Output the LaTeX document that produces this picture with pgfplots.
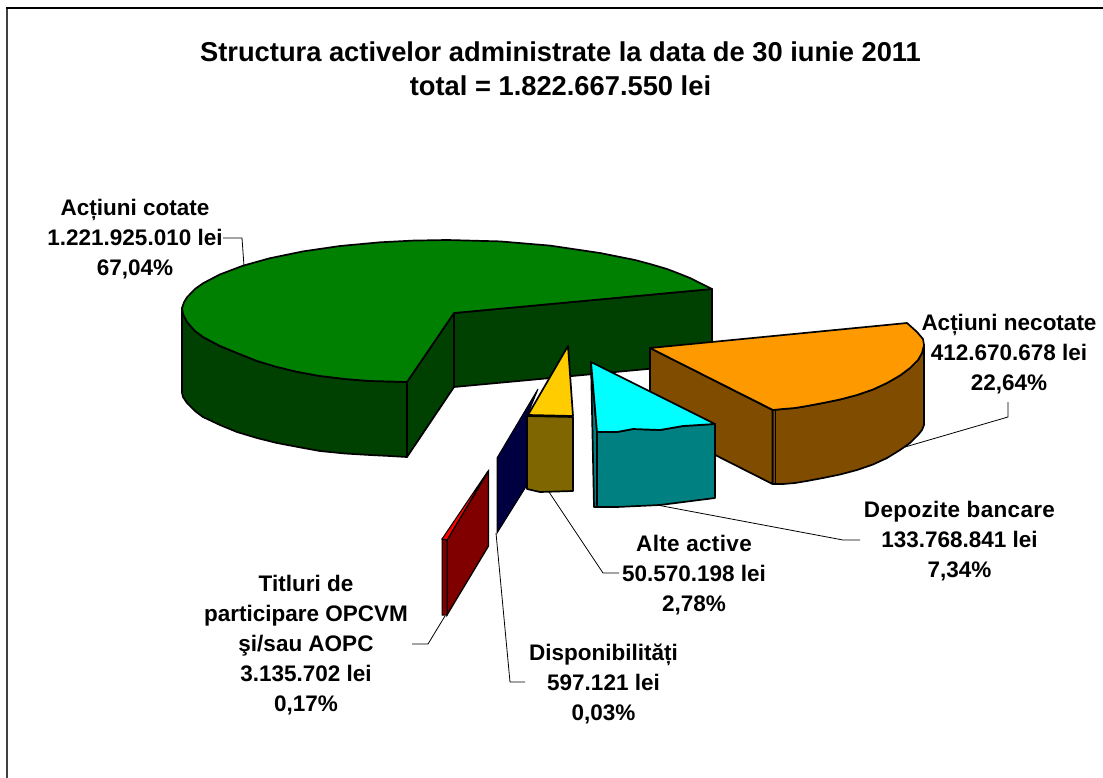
\documentclass[border=0pt]{standalone}
\usepackage{pgfplots}
\pgfplotsset{compat=1.18}
\usepackage{fontspec}
\setmainfont{Liberation Sans}
\newcommand{\ls}{\addfontfeature{LetterSpace=1.5}}
\definecolor{gtop}{HTML}{008000}
\definecolor{gside}{HTML}{004000}
\definecolor{otop}{HTML}{FF9900}
\definecolor{oside}{HTML}{804C00}
\definecolor{ctop}{HTML}{00FFFF}
\definecolor{cside}{HTML}{008080}
\definecolor{ytop}{HTML}{FFCC00}
\definecolor{yside}{HTML}{806600}
\definecolor{navy}{HTML}{000040}
\definecolor{rtop}{HTML}{FF0000}
\definecolor{rside}{HTML}{800000}
\tikzset{
  face/.style={draw=black, line width=1.7pt, line join=round},
  lead/.style={draw=black, line width=0.8pt},
  lab/.style={font=\bfseries\fontsize{22.5}{30}\selectfont, align=center, inner sep=0pt, text=black}
}
\begin{document}
\begin{tikzpicture}
\begin{axis}[
  scale only axis, width=1103pt, height=778pt,
  xmin=0, xmax=1103, ymin=0, ymax=778, y dir=reverse,
  hide axis, clip=true
]
\addplot[draw=none, fill=white] coordinates {(0,0) (1103,0) (1103,778) (0,778)} -- cycle;
% frame
\addplot[draw=black!75, line width=2pt] coordinates {(7,778) (7,8)};
\addplot[draw=black, line width=1.3pt] coordinates {(6,8) (1103,8)};
% green
\addplot[face, fill=gside] coordinates {(454,313) (712,289) (712,363) (454,387)} -- cycle;
\addplot[face, fill=gside] coordinates {(407,382) (454,313) (454,387) (407,457)} -- cycle;
\addplot[face, fill=gside] coordinates {(182,308) (183,314) (187,322) (195,331) (203,337) (220,346) (237,353) (257,361) (277,367) (298,372) (320,376) (345,379) (370,381) (390,381.5) (407,382) (407,457) (390,456) (370,455) (345,453.5) (320,451) (298,447) (277,443) (257,438) (237,432) (220,425) (203,417) (195,411) (187,403) (183,397) (182,393)} -- cycle;
\addplot[face, fill=gtop] coordinates {(454,313) (712,289) (702,284) (690,278) (680,274) (667,269) (650,264) (635,260) (600,253) (550,245.6) (500,241.4) (447,240) (413,240.6) (380,242.3) (340,246) (303,251.4) (270,258.2) (243,265.7) (220,274.4) (203,283.3) (195,289) (187,297.3) (184,302.3) (182,308) (183,314) (187,322) (195,331) (203,337) (220,346) (237,353) (257,361) (277,367) (298,372) (320,376) (345,379) (370,381) (390,381.5) (407,382)} -- cycle;
% orange
\addplot[face, fill=oside] coordinates {(772.5,410) (783,409) (795,408) (807,406) (823,403) (840,399.5) (857,395) (873,389.5) (887,383) (900,375.5) (910,368) (918,360) (922,353) (924,345) (924,425) (922,430) (918,435) (910,443) (900,450) (887,458) (873,464.5) (857,470) (840,474.5) (823,478) (807,481) (795,483) (783,484) (772.5,484)} -- cycle;
\addplot[face, fill=oside] coordinates {(650,348) (772.5,410) (772.5,484) (650,422)} -- cycle;
\addplot[draw=black, line width=1.2pt] coordinates {(775.5,410) (775.5,484)};
\addplot[face, fill=otop] coordinates {(650,348) (907,323) (917,332) (923,339) (924,345) (922,353) (918,360) (910,368) (900,375.5) (887,383) (873,389.5) (857,395) (840,399.5) (823,403) (807,406) (795,408) (783,409) (773,410)} -- cycle;
% cyan
\addplot[face, fill=cside] coordinates {(591,362) (594,507) (597,507) (597,432)} -- cycle;
\addplot[face, fill=cside] coordinates {(597,432) (617,432) (633,429) (660,430) (683,426) (715,424) (715,498) (660,505) (617,507) (597,507)} -- cycle;
\addplot[face, fill=ctop] coordinates {(591,362) (715,424) (683,426) (660,430) (633,429) (617,432) (597,432)} -- cycle;
% navy
\addplot[draw=black, line width=1pt, fill=navy] coordinates {(538,389) (497,458) (497,533) (527,485) (527,416)} -- cycle;
% yellow
\addplot[face, fill=yside] coordinates {(527,416) (573,417) (573,491) (540,492) (527,489)} -- cycle;
\addplot[face, fill=ytop] coordinates {(568,346) (573,416) (528,415)} -- cycle;
% red
\addplot[draw=black, line width=1.3pt, fill=rside] coordinates {(447,540) (488.5,471) (488.5,546) (447,615)} -- cycle;
\addplot[draw=black, line width=1pt, fill=rside] coordinates {(442,539) (447,540) (447,615) (442,615)} -- cycle;
\addplot[draw=black, line width=1pt, fill=rtop] coordinates {(488,471) (442,539) (447,540)} -- cycle;
% leaders
\addplot[lead] coordinates {(223,238) (242,238) (244,266)};
\addplot[lead] coordinates {(1008,402) (1008,417) (905,447)};
\addplot[lead] coordinates {(657,505) (843,540) (860,540)};
\addplot[lead] coordinates {(549,492) (603,573) (619,573)};
\addplot[lead] coordinates {(496,533) (510,682) (525,682)};
\addplot[lead] coordinates {(445,616) (428,644) (412,644)};
% text
\node[font=\bfseries\fontsize{27.3}{34}\selectfont, align=center, inner sep=0pt] at (axis cs:560.5,69) {Structura activelor administrate la data de 30 iunie 2011\\total = 1.822.667.550 lei};
\node[lab] at (axis cs:135,239.5) {Acțiuni cotate\\1.221.925.010 lei\\67,04\%};
\node[lab] at (axis cs:1009,354) {Acțiuni necotate\\412.670.678 lei\\22,64\%};
\node[lab] at (axis cs:959.5,541) {{\ls Depozite bancare}\\133.768.841 lei\\7,34\%};
\node[lab] at (axis cs:694,575) {{\ls Alte active}\\50.570.198 lei\\2,78\%};
\node[lab] at (axis cs:306,645.5) {Titluri de\\participare OPCVM\\şi/sau AOPC\\3.135.702 lei\\0,17\%};
\node[lab] at (axis cs:603.5,684) {Disponibilități\\597.121 lei\\0,03\%};
\end{axis}
\end{tikzpicture}
\end{document}
